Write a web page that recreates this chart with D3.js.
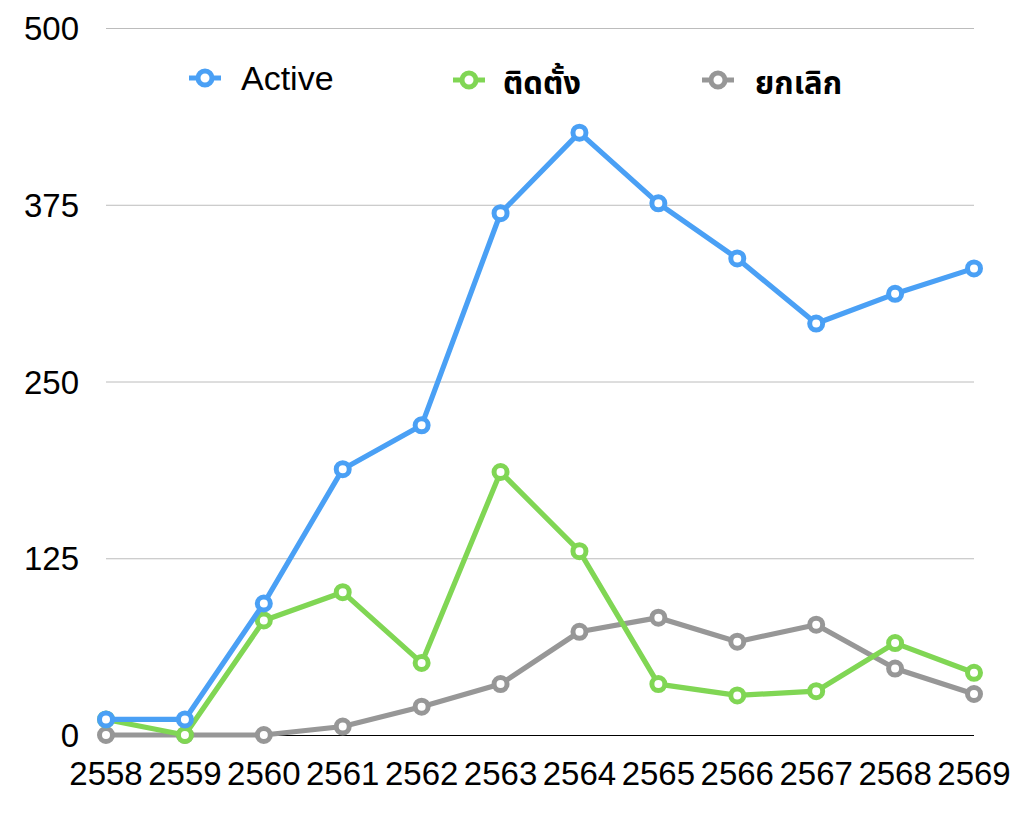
<!DOCTYPE html>
<html><head><meta charset="utf-8">
<script src="https://cdn.jsdelivr.net/npm/d3@7/dist/d3.min.js"></script>
<style>body{margin:0;background:#fff;} svg{display:block;}</style>
</head><body>
<svg id="c" width="1033" height="819"></svg>
<script>
const years = ["2558","2559","2560","2561","2562","2563","2564","2565","2566","2567","2568","2569"];
const activeVals = [11, 11, 93, 188, 219, 369, 426, 376, 337, 291, 312, 330];
const installVals = [11, 0, 81, 101, 51, 186, 130, 36, 28, 31, 65, 44];
const cancelVals = [0, 0, 0, 6, 20, 36, 73, 83, 66, 78, 47, 29];
const yTicks = [0, 125, 250, 375, 500];
const seriesNames = ["Active", "ติดตั้ง", "ยกเลิก"];
const seriesColors = ["#4aa0f5", "#80d654", "#979797"];

const svg = d3.select("#c");
const x = d3.scalePoint().domain(years).range([106, 974]);
const y = d3.scaleLinear().domain([0, 500]).range([735, 28]);
const font = "'Liberation Sans', Helvetica, Arial, sans-serif";

// grid
svg.append("g").selectAll("line").data(yTicks.filter(d => d > 0)).join("line")
  .attr("x1", 106).attr("x2", 974)
  .attr("y1", d => y(d) + 0.5).attr("y2", d => y(d) + 0.5)
  .attr("stroke", "#bcbcbc").attr("stroke-width", 1);
svg.append("line").attr("x1", 106).attr("x2", 974)
  .attr("y1", y(0) + 0.5).attr("y2", y(0) + 0.5)
  .attr("stroke", "#000").attr("stroke-width", 1.2);

// y labels
svg.append("g").selectAll("text").data(yTicks).join("text")
  .attr("x", 79).attr("y", d => y(d) + 12)
  .attr("text-anchor", "end").attr("font-family", font).attr("font-size", 33)
  .text(d => d);
// x labels
svg.append("g").selectAll("text").data(years).join("text")
  .attr("x", d => x(d)).attr("y", 785)
  .attr("text-anchor", "middle").attr("font-family", font).attr("font-size", 33)
  .text(d => d);

const allSeries = [activeVals, installVals, cancelVals];
const line = d3.line().x((d, i) => x(years[i])).y(d => y(d));
// draw from back to front: cancel, install, active
[2, 1, 0].forEach(si => {
  const g = svg.append("g");
  g.append("path").datum(allSeries[si]).attr("d", line)
    .attr("fill", "none").attr("stroke", seriesColors[si]).attr("stroke-width", 5.2)
    .attr("stroke-linejoin", "round");
  g.selectAll("circle").data(allSeries[si]).join("circle")
    .attr("cx", (d, i) => x(years[i])).attr("cy", d => y(d)).attr("r", 6.5)
    .attr("fill", "#fff").attr("stroke", seriesColors[si]).attr("stroke-width", 5);
});

// legend
const legX = [205, 469, 718];
const legY = [78, 80, 80];
const legTextX = [241, 503, 755];
seriesNames.forEach((n, i) => {
  const g = svg.append("g");
  g.append("line").attr("x1", legX[i] - 16).attr("x2", legX[i] + 16)
    .attr("y1", legY[i]).attr("y2", legY[i]).attr("stroke", seriesColors[i]).attr("stroke-width", 5);
  g.append("circle").attr("cx", legX[i]).attr("cy", legY[i]).attr("r", 7)
    .attr("fill", "#fff").attr("stroke", seriesColors[i]).attr("stroke-width", 5);
  g.append("text").attr("x", legTextX[i]).attr("y", i === 0 ? 90 : 94)
    .attr("font-family", i === 0 ? font : "'Noto Sans Thai', 'Noto Sans', 'DejaVu Sans', sans-serif")
    .attr("font-weight", i === 0 ? "normal" : "bold")
    .attr("font-size", i === 0 ? 34 : 31).text(n);
});
</script>
</body></html>
